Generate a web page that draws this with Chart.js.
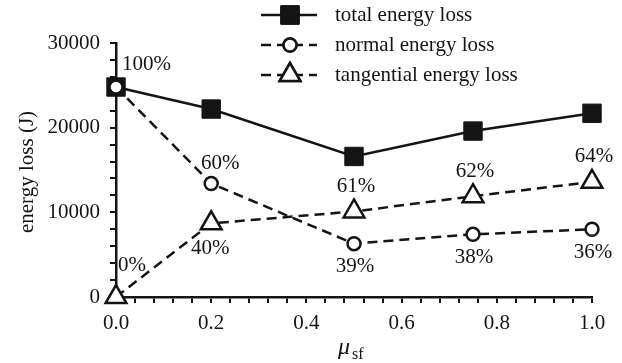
<!DOCTYPE html>
<html>
<head>
<meta charset="utf-8">
<script src="https://cdn.jsdelivr.net/npm/chart.js@4.4.1/dist/chart.umd.min.js"></script>
<style>
  body { margin: 0; background: #fff; }
  canvas { display: block; }
</style>
</head>
<body>
<canvas id="lossChart" width="622" height="363"></canvas>
<script>
const mu = [0.0, 0.2, 0.5, 0.75, 1.0];
const totalLoss = [24800, 22200, 16600, 19600, 21700];
const normalLoss = [24800, 13400, 6300, 7400, 8000];
const tangentialLoss = [0, 8700, 10100, 11900, 13600];
const normalPct = ["100%", "60%", "39%", "38%", "36%"];
const tangentialPct = ["0%", "40%", "61%", "62%", "64%"];
const seriesNames = ["total energy loss", "normal energy loss", "tangential energy loss"];

const FONT = "'Liberation Serif', 'Times New Roman', serif";
const INK = "#141414";

function toPoints(ys) {
  return mu.map((x, i) => ({ x: x, y: ys[i] }));
}

// percent labels next to the normal / tangential points
const pctLabels = {
  id: "pctLabels",
  afterDatasetsDraw(chart) {
    const ctx = chart.ctx;
    const xs = chart.scales.x;
    const ys = chart.scales.y;
    ctx.save();
    ctx.font = "21px " + FONT;
    ctx.fillStyle = INK;
    ctx.textBaseline = "middle";
    mu.forEach((m, i) => {
      const px = xs.getPixelForValue(m);
      const pn = ys.getPixelForValue(normalLoss[i]);
      const pt = ys.getPixelForValue(tangentialLoss[i]);
      if (i === 0) {
        ctx.textAlign = "left";
        ctx.fillText(normalPct[i], px + 6, pn - 23);
        ctx.fillText(tangentialPct[i], px + 2, pt - 32);
      } else if (i === 1) {
        ctx.textAlign = "center";
        ctx.fillText(normalPct[i], px + 9, pn - 20);
        ctx.fillText(tangentialPct[i], px - 1, pt + 25);
      } else {
        ctx.textAlign = "center";
        ctx.fillText(normalPct[i], px + 1, pn + 23);
        ctx.fillText(tangentialPct[i], px + 2, pt - 25);
      }
    });
    ctx.restore();
  },
};

// legend, axis titles
const decorations = {
  id: "decorations",
  afterDraw(chart) {
    const ctx = chart.ctx;
    ctx.save();
    ctx.fillStyle = INK;
    ctx.strokeStyle = INK;

    // legend rows
    const rowsY = [15, 45, 75];
    chart.data.datasets.forEach((ds, i) => {
      const y = rowsY[i];
      ctx.lineWidth = ds.borderWidth;
      ctx.setLineDash(ds.borderDash || []);
      ctx.beginPath();
      ctx.moveTo(261, y);
      ctx.lineTo(317, y);
      ctx.stroke();
      ctx.setLineDash([]);
      ctx.lineWidth = ds.pointBorderWidth;
      Chart.helpers.drawPoint(ctx, {
        pointStyle: ds.pointStyle,
        radius: ds.pointRadius,
        borderWidth: ds.pointBorderWidth,
      }, 290, y);
      ctx.fillStyle = ds.pointBackgroundColor;
      ctx.fill();
      ctx.stroke();
      ctx.fillStyle = INK;
      ctx.font = "21px " + FONT;
      ctx.textAlign = "left";
      ctx.textBaseline = "middle";
      ctx.fillText(seriesNames[i], 335, y);
    });

    // y title
    ctx.save();
    ctx.translate(27, 172);
    ctx.rotate(-Math.PI / 2);
    ctx.font = "21px " + FONT;
    ctx.textAlign = "center";
    ctx.textBaseline = "middle";
    ctx.fillText("energy loss (J)", 0, 0);
    ctx.restore();

    // x title: mu_sf
    ctx.textAlign = "left";
    ctx.textBaseline = "alphabetic";
    ctx.font = "italic 24px " + FONT;
    ctx.fillText("\u03bc", 338, 354);
    ctx.font = "16px " + FONT;
    ctx.fillText("sf", 352, 359);
    ctx.restore();
  },
};

new Chart(document.getElementById("lossChart"), {
  type: "scatter",
  data: {
    datasets: [
      {
        label: seriesNames[0],
        data: toPoints(totalLoss),
        showLine: true,
        clip: false,
        borderColor: INK,
        borderWidth: 2.5,
        pointStyle: "rect",
        pointRadius: 13,
        pointBorderWidth: 1,
        pointBackgroundColor: INK,
        pointBorderColor: INK,
        order: 3,
      },
      {
        label: seriesNames[1],
        data: toPoints(normalLoss),
        showLine: true,
        clip: false,
        borderColor: INK,
        borderWidth: 2.5,
        borderDash: [10, 6],
        pointStyle: "circle",
        pointRadius: 6.5,
        pointBorderWidth: 2.5,
        pointBackgroundColor: "#fff",
        pointBorderColor: INK,
        order: 1,
      },
      {
        label: seriesNames[2],
        data: toPoints(tangentialLoss),
        showLine: true,
        clip: false,
        borderColor: INK,
        borderWidth: 2.5,
        borderDash: [10, 6],
        pointStyle: "triangle",
        pointRadius: 12,
        pointBorderWidth: 2.5,
        pointBackgroundColor: "#fff",
        pointBorderColor: INK,
        order: 2,
      },
    ],
  },
  options: {
    responsive: false,
    animation: false,
    layout: { padding: { left: 0, right: 30, top: 43, bottom: 0 } },
    plugins: {
      legend: { display: false },
      tooltip: { enabled: false },
    },
    scales: {
      x: {
        type: "linear",
        min: 0,
        max: 1,
        afterFit: (s) => { s.height = 66; },
        border: { display: true, color: INK, width: 2.5 },
        grid: { drawOnChartArea: false, drawTicks: true, tickLength: 6, color: INK, lineWidth: 2 },
        ticks: {
          stepSize: 0.04,
          autoSkip: false,
          maxRotation: 0,
          color: INK,
          padding: 8,
          font: { family: FONT, size: 21 },
          callback: (v) => {
            const k = v * 5;
            return Math.abs(k - Math.round(k)) < 1e-6 ? v.toFixed(1) : "";
          },
        },
      },
      y: {
        min: 0,
        max: 30000,
        afterFit: (s) => { s.width = 116; },
        border: { display: true, color: INK, width: 2.5 },
        grid: { drawOnChartArea: false, drawTicks: true, tickLength: 6, color: INK, lineWidth: 2 },
        ticks: {
          stepSize: 2000,
          autoSkip: false,
          color: INK,
          padding: 10,
          font: { family: FONT, size: 21 },
          callback: (v) => (v % 10000 === 0 ? String(v) : ""),
        },
      },
    },
  },
  plugins: [pctLabels, decorations],
});
</script>
</body>
</html>
